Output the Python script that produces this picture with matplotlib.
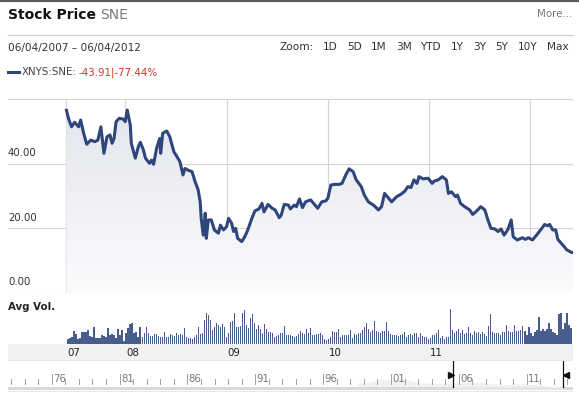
import matplotlib
matplotlib.use("Agg")
import matplotlib.pyplot as plt
import numpy as np
from matplotlib.colors import LinearSegmentedColormap
from matplotlib.lines import Line2D
from matplotlib.transforms import blended_transform_factory

W, H = 579, 398

# weekly-ish closes (fractional years)
price_years = [
    2007.42, 2007.44, 2007.47, 2007.50, 2007.54, 2007.56, 2007.59, 2007.62, 2007.66, 2007.70,
    2007.73, 2007.76, 2007.79, 2007.82, 2007.85, 2007.87, 2007.89, 2007.91, 2007.94, 2007.98,
    2008.00, 2008.02, 2008.05, 2008.06, 2008.10, 2008.13, 2008.15, 2008.18, 2008.20, 2008.24,
    2008.26, 2008.28, 2008.31, 2008.34, 2008.35, 2008.37, 2008.41, 2008.44, 2008.48, 2008.51,
    2008.54, 2008.57, 2008.59, 2008.62, 2008.66, 2008.69, 2008.72, 2008.74, 2008.75, 2008.77,
    2008.79, 2008.80, 2008.82, 2008.85, 2008.88, 2008.92, 2008.94, 2008.97, 2009.00, 2009.02,
    2009.05, 2009.07, 2009.09, 2009.11, 2009.15, 2009.18, 2009.21, 2009.25, 2009.28, 2009.32,
    2009.35, 2009.37, 2009.41, 2009.45, 2009.48, 2009.52, 2009.54, 2009.57, 2009.61, 2009.63,
    2009.67, 2009.69, 2009.72, 2009.75, 2009.78, 2009.83, 2009.86, 2009.90, 2009.94, 2009.98,
    2010.00, 2010.03, 2010.07, 2010.11, 2010.14, 2010.18, 2010.21, 2010.25, 2010.28, 2010.33,
    2010.36, 2010.40, 2010.45, 2010.50, 2010.53, 2010.56, 2010.60, 2010.63, 2010.68, 2010.72,
    2010.76, 2010.79, 2010.82, 2010.85, 2010.88, 2010.90, 2010.94, 2010.99, 2011.03, 2011.05,
    2011.09, 2011.13, 2011.17, 2011.19, 2011.22, 2011.26, 2011.28, 2011.31, 2011.35, 2011.40,
    2011.43, 2011.46, 2011.51, 2011.55, 2011.58, 2011.61, 2011.65, 2011.68, 2011.71, 2011.74,
    2011.78, 2011.81, 2011.83, 2011.87, 2011.92, 2011.95, 2011.98, 2012.02, 2012.06, 2012.10,
    2012.14, 2012.17, 2012.19, 2012.22, 2012.25, 2012.27, 2012.32, 2012.36, 2012.41, 2012.42,
]
price_vals = [
    56.5, 54.0, 51.4, 52.8, 51.4, 53.5, 49.4, 46.0, 47.3, 46.8,
    47.3, 51.4, 43.2, 48.3, 48.9, 46.3, 47.8, 53.0, 54.0, 53.8,
    53.0, 56.6, 52.0, 46.3, 41.7, 45.3, 46.6, 44.2, 41.7, 40.1,
    41.1, 39.8, 44.8, 47.8, 43.2, 49.4, 50.1, 48.3, 43.7, 42.2,
    40.6, 36.5, 38.5, 38.0, 37.5, 34.4, 31.9, 28.2, 23.1, 17.9,
    24.7, 16.9, 22.6, 22.6, 19.5, 18.5, 21.0, 19.5, 20.5, 23.1,
    21.6, 19.0, 20.0, 16.9, 15.9, 17.4, 19.5, 23.1, 25.4, 26.0,
    27.7, 25.1, 27.4, 26.2, 25.7, 23.3, 24.1, 27.4, 27.2, 26.0,
    27.2, 26.7, 29.1, 26.4, 28.2, 28.8, 27.7, 26.2, 28.2, 28.5,
    29.3, 33.4, 33.6, 33.6, 33.9, 36.7, 38.4, 37.5, 35.0, 32.9,
    30.3, 28.2, 27.2, 25.7, 26.7, 30.8, 29.3, 28.2, 29.8, 30.5,
    31.5, 32.9, 32.6, 35.0, 33.9, 36.0, 35.3, 35.5, 33.9, 34.6,
    35.0, 36.0, 35.0, 30.8, 31.3, 29.8, 30.3, 27.7, 26.7, 25.7,
    24.3, 25.1, 26.7, 25.7, 22.6, 20.0, 19.8, 19.0, 19.8, 17.9,
    19.8, 22.6, 17.4, 16.4, 17.1, 16.6, 17.1, 16.4, 17.9, 19.5,
    21.2, 20.8, 21.2, 19.5, 19.5, 16.6, 14.8, 13.3, 12.5, 12.6,
]

# weekly average volume (millions)
avg_vol = [
    1.5, 1.7, 2.2, 3.9, 2.9, 1.5, 1.8, 3.5, 3.5, 3.7, 4.2, 2.4, 2.0, 5.0, 1.9, 1.9, 1.9, 2.8, 2.5, 2.2,
    4.7, 2.6, 3.0, 2.7, 1.8, 4.4, 2.7, 4.2, 1.0, 3.2, 4.7, 6.0, 6.2, 3.4, 3.6, 2.2, 5.2, 2.0, 3.4, 5.0,
    3.2, 2.4, 2.5, 3.1, 3.1, 2.5, 2.2, 2.2, 3.7, 2.2, 2.0, 3.0, 2.8, 2.4, 3.2, 2.6, 2.9, 2.7, 4.7, 2.0,
    1.8, 1.7, 1.4, 2.2, 2.7, 5.2, 3.1, 3.2, 7.2, 9.2, 8.7, 7.2, 4.2, 5.2, 6.4, 5.7, 5.2, 6.0, 5.2, 2.0,
    3.4, 6.7, 7.0, 9.2, 5.2, 5.0, 5.4, 9.2, 10.2, 5.8, 4.7, 7.7, 9.0, 6.2, 4.4, 5.8, 4.4, 3.4, 6.0, 4.4,
    3.7, 3.7, 3.2, 2.2, 2.4, 2.7, 3.4, 3.2, 5.4, 2.8, 2.7, 2.7, 2.4, 2.2, 2.4, 3.0, 4.0, 3.4, 3.0, 4.6,
    3.2, 4.7, 2.7, 2.8, 3.0, 3.0,
    3.2, 2.7, 1.5, 1.2, 1.4, 2.2, 3.9, 3.7, 3.6, 4.4, 2.2, 2.7, 2.6, 2.8, 2.6, 4.2, 1.9, 2.9, 2.8, 3.2,
    3.4, 4.2, 5.2, 6.2, 4.4, 3.7, 4.2, 7.0, 3.9, 3.6, 3.2, 4.0, 3.9, 6.5, 4.0, 3.0, 2.8, 2.6, 2.6, 2.4,
    2.8, 3.0, 3.6, 2.2, 2.8, 3.0, 2.7, 3.4, 3.2, 2.2, 3.4, 2.4, 2.2, 2.2, 1.4, 1.8, 2.6, 2.8, 3.2, 4.2,
    1.8, 2.4, 1.4, 2.0, 2.2, 10.4, 4.2, 3.2, 4.0, 4.4, 3.4, 4.2, 3.0, 3.2, 5.2, 3.4, 2.8, 3.8, 3.2, 3.7,
    3.0, 3.7, 3.0, 2.4, 5.4, 9.0, 3.7, 3.4, 3.2, 3.4, 2.7, 3.7, 3.6, 5.7, 3.8, 3.6, 3.7, 5.7, 3.9, 3.8,
    4.2, 5.4, 3.8, 2.8, 5.0, 3.4, 2.4, 3.7, 4.2, 8.2, 3.8, 4.4, 4.0, 4.6, 6.2, 4.4, 3.7, 3.2, 2.8, 9.0,
    9.2, 4.4, 6.4, 9.2, 5.7, 4.8,
]

year_ticks = [2008, 2009, 2010, 2011, 2012]
year_labels = ["08", "09", "10", "11", ""]
first_label = "07"
price_ticks = [0, 20, 40]
price_tick_labels = ["0.00", "20.00", "40.00"]
zoom_labels = ["1D", "5D", "1M", "3M", "YTD", "1Y", "3Y", "5Y", "10Y", "Max"]
zoom_x = [323, 347, 371, 396, 420, 451, 473, 495, 518, 547]

# long-term navigator strip
nav_label_years = [1976, 1981, 1986, 1991, 1996, 2001, 2006, 2011]
nav_labels = ["76", "81", "86", "91", "96", "01", "06", "11"]
nav_years = [1998.5, 1999.5, 2000.3, 2001.0, 2001.8, 2002.5, 2003.3, 2004.5, 2005.5, 2006.5,
             2007.4, 2008.0, 2008.8, 2009.5, 2010.3, 2011.0, 2012.4]
nav_price = [35, 60, 95, 80, 100, 70, 45, 40, 38, 50, 56, 50, 22, 25, 33, 33, 13]

LINE = "#2e467b"
GRID = "#d6d6d6"
TXT = "#333333"
RED = "#d8352b"

fig = plt.figure(figsize=(W / 100, H / 100), dpi=100)
fig.patch.set_facecolor("white")


def rect(x0, y0, x1, y1):
    return [x0 / W, 1 - y1 / H, (x1 - x0) / W, (y1 - y0) / H]


def ftext(x, y, s, **kw):
    fig.text(x / W, 1 - y / H, s, va="center", **kw)


def fline(x0, x1, y, **kw):
    fig.add_artist(Line2D([x0 / W, x1 / W], [1 - y / H, 1 - y / H],
                          transform=fig.transFigure, **kw))


# header
fline(0, W, 1, color="#5e5e5e", lw=1.6)
ftext(8, 15, "Stock Price", fontsize=10, fontweight="bold", color="#111111")
ftext(100, 15, "SNE", fontsize=10, color="#7a7a7a")
ftext(572, 14, "More...", fontsize=7.4, color="#777777", ha="right")
fline(8, 573, 35, color="#cfcfcf", lw=0.9)
ftext(8, 47.5, "06/04/2007 \u2013 06/04/2012", fontsize=7.6, color=TXT)
ftext(279, 47.5, "Zoom:", fontsize=7.6, color=TXT)
for lab, xp in zip(zoom_labels, zoom_x):
    ftext(xp, 47.5, lab, fontsize=7.6, color=TXT)

# legend line
fline(8, 19, 72, color=LINE, lw=2.2)
ftext(22, 72.3, "XNYS:SNE:", fontsize=7.4, color="#444444")
ftext(78.5, 72.3, "-43.91|-77.44%", fontsize=7.4, color=RED)

# price panel
xlim = (2006.843, 2012.42)
ax = fig.add_axes(rect(8, 99, 573, 293))
ax.set_xlim(*xlim)
ax.set_ylim(0, 60)
ax.axis("off")
for v in [0, 20, 40, 60]:
    ax.axhline(v, color=GRID, lw=0.85, zorder=0)
for yv in [price_years[0]] + year_ticks:
    ax.axvline(yv, color=GRID, lw=0.85, zorder=0)

poly = ax.fill_between(price_years, price_vals, 0, facecolor="none", edgecolor="none")
cmap = LinearSegmentedColormap.from_list("g", ["#fbfbfd", "#e2e5ed"])
grad = np.linspace(0, 1, 256).reshape(-1, 1)
im = ax.imshow(grad, extent=[xlim[0], xlim[1], 0, 60], origin="lower",
               aspect="auto", cmap=cmap, zorder=1)
im.set_clip_path(poly.get_paths()[0], transform=ax.transData)
ax.plot(price_years, price_vals, color=LINE, lw=2.2, zorder=3,
        solid_joinstyle="round")

tr = blended_transform_factory(ax.transAxes, ax.transData)
for v, lab in zip(price_ticks, price_tick_labels):
    ax.text(0, v + 3.3, lab, transform=tr, fontsize=7.3, color=TXT,
            ha="left", va="center")

# volume panel
ftext(8, 307, "Avg Vol.", fontsize=7.4, fontweight="bold", color="#222222")
vax = fig.add_axes(rect(8, 300, 573, 344))
vax.set_xlim(*xlim)
vax.set_ylim(0, 13.2)
vax.axis("off")
vol_x = np.linspace(2007.435, 2012.40, len(avg_vol))
pitch = vol_x[1] - vol_x[0]
vax.bar(vol_x, avg_vol, width=pitch * 0.62, color="#485c8e", linewidth=0)

# year label band
bax = fig.add_axes(rect(8, 344, 573, 361))
bax.set_xlim(*xlim)
bax.set_ylim(0, 1)
bax.set_xticks([])
bax.set_yticks([])
bax.set_facecolor("#f1f1f1")
for s in bax.spines.values():
    s.set_visible(False)
bax.axhline(0.02, color="#cccccc", lw=1.0)
bax.text(price_years[0] + 0.012, 0.5, first_label, fontsize=7.4, color="#222222", va="center")
for yv, lab in zip(year_ticks, year_labels):
    bax.text(yv + 0.012, 0.5, lab, fontsize=7.4, color="#222222", va="center")

# navigator strip (y in pixel units, inverted)
nax = fig.add_axes(rect(8, 361, 573, 392))
nax.set_xlim(1972.78, 2014.41)
nax.set_ylim(392, 361)
nax.axis("off")
nav_h = np.array(nav_price) * 0.08
nax.fill_between(nav_years, 386.5, 386.5 - nav_h, color="#f1f1f1", lw=0, zorder=0)
for yr in range(1973, 2015):
    if yr in nav_label_years:
        nax.plot([yr, yr], [373.5, 384], color="#a0a0a0", lw=0.7)
    else:
        nax.plot([yr, yr], [379, 384], color="#a0a0a0", lw=0.7)
for yr, lab in zip(nav_label_years, nav_labels):
    nax.text(yr + 0.1, 379.5, lab, fontsize=7.3, color="#777777", va="center")
nax.axhspan(386.5, 389.5, color="#d9d9d9", lw=0)
nax.axhspan(390.8, 391.8, color="#e8e8e8", lw=0)
sel0, sel1 = 2005.59, 2013.69
nax.axhspan(386.5, 389.5, xmin=(sel0 - 1972.78) / 41.63, xmax=(sel1 - 1972.78) / 41.63,
            color="#e6e6e6", lw=0)
nax.plot([sel0, sel0], [361, 387], color="#111111", lw=0.9)
nax.plot([sel1, sel1], [361, 387], color="#111111", lw=0.9)
nax.plot([sel0 - 0.18], [374.5], marker=">", color="#111111", ms=4.5)
nax.plot([sel1 + 0.2], [374.5], marker="<", color="#111111", ms=4.5)

fig.savefig("out.png", dpi=100)
